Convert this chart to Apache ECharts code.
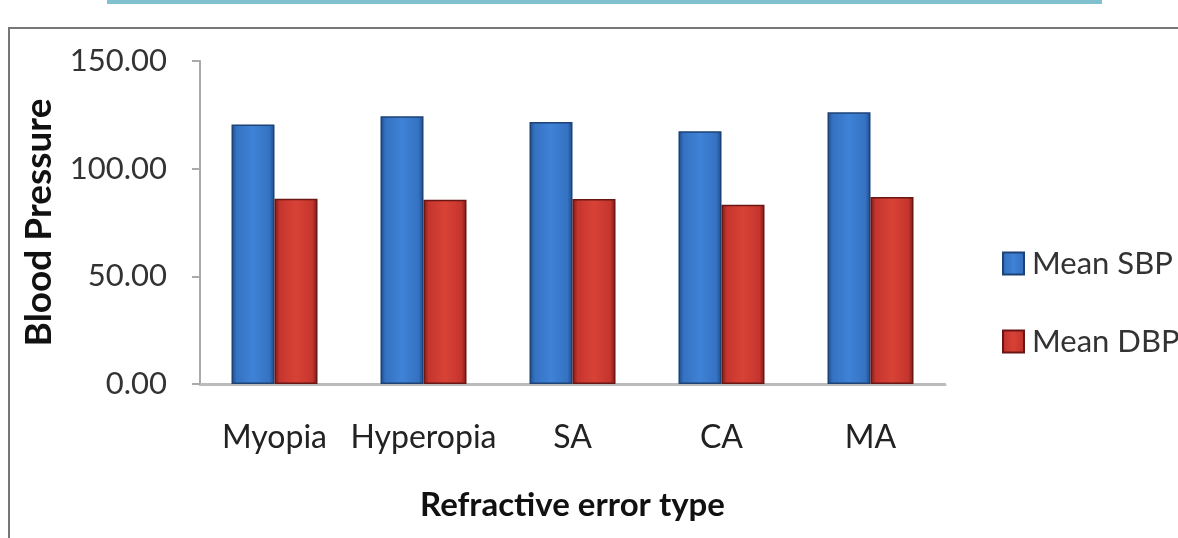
<!DOCTYPE html>
<html>
<head>
<meta charset="utf-8">
<script src="https://cdn.jsdelivr.net/npm/echarts@6/dist/echarts.min.js"></script>
<style>
html,body{margin:0;padding:0;background:#fff;}
#wrap{position:relative;width:1178px;height:538px;overflow:hidden;background:#fff;}
#topbar{position:absolute;left:107px;top:0;width:995px;height:4px;background:#7fc1cf;}
#frame{position:absolute;left:8px;top:27px;width:1180px;height:520px;border-left:2px solid #777;border-top:2px solid #777;}
#chart{position:absolute;left:0;top:0;width:1178px;height:538px;}
</style>
</head>
<body>
<div id="wrap">
<div id="topbar"></div>
<div id="frame"></div>
<div id="chart"></div>
</div>
<script>
const categories = ['Myopia', 'Hyperopia', 'SA', 'CA', 'MA'];
const meanSBP = [120.5, 124.3, 121.7, 117.4, 126.2];
const meanDBP = [86.0, 85.6, 85.9, 83.3, 86.8];
const yTicks = [0, 50, 100, 150];

const font = 'Lato, "Open Sans", sans-serif';
function grad(dark, mid, light) {
  return new echarts.graphic.LinearGradient(0, 0, 1, 0, [
    {offset: 0, color: dark},
    {offset: 0.12, color: mid},
    {offset: 0.5, color: light},
    {offset: 0.88, color: mid},
    {offset: 1, color: dark}
  ]);
}
const chart = echarts.init(document.getElementById('chart'));
chart.setOption({
  animation: false,
  backgroundColor: 'transparent',
  grid: {left: 200, right: 233, top: 61, bottom: 154},
  legend: {
    orient: 'vertical',
    left: 997,
    top: 243,
    itemWidth: 21,
    itemHeight: 22,
    itemGap: 47,
    icon: 'rect',
    textStyle: {fontFamily: font, fontSize: 31, color: '#333', padding: [0, 0, 0, 3]},
    data: ['Mean SBP', 'Mean DBP']
  },
  xAxis: {
    type: 'category',
    data: categories,
    name: 'Refractive error type',
    nameLocation: 'middle',
    nameGap: 105,
    nameTextStyle: {fontFamily: font, fontSize: 33, fontWeight: 'bold', color: '#111'},
    axisLine: {lineStyle: {color: '#bbb', width: 3}},
    axisTick: {show: false},
    axisLabel: {fontFamily: font, fontSize: 32, color: '#222', margin: 38, interval: 0, hideOverlap: false}
  },
  yAxis: {
    type: 'value',
    min: 0, max: 150, interval: 50,
    name: 'Blood Pressure',
    nameLocation: 'middle',
    nameGap: 142,
    nameTextStyle: {fontFamily: font, fontSize: 37, fontWeight: 'bold', color: '#111'},
    axisLine: {show: true, lineStyle: {color: '#aaa', width: 2}},
    axisTick: {show: true, length: 8, lineStyle: {color: '#aaa', width: 2}},
    splitLine: {show: false},
    axisLabel: {
      fontFamily: font, fontSize: 31, color: '#333', margin: 33,
      formatter: v => yTicks.includes(v) ? v.toFixed(2) : ''
    }
  },
  series: [
    {
      name: 'Mean SBP', type: 'bar', data: meanSBP,
      barWidth: 43, barGap: '0%',
      itemStyle: {color: grad('#1f4b88', '#3572c2', '#3f82d6'), borderColor: '#1d4275', borderWidth: 1.5}
    },
    {
      name: 'Mean DBP', type: 'bar', data: meanDBP,
      barWidth: 43, barGap: '0%',
      itemStyle: {color: grad('#7a1a18', '#c5352d', '#d84236'), borderColor: '#6a1614', borderWidth: 1.5}
    }
  ]
});
</script>
</body>
</html>
